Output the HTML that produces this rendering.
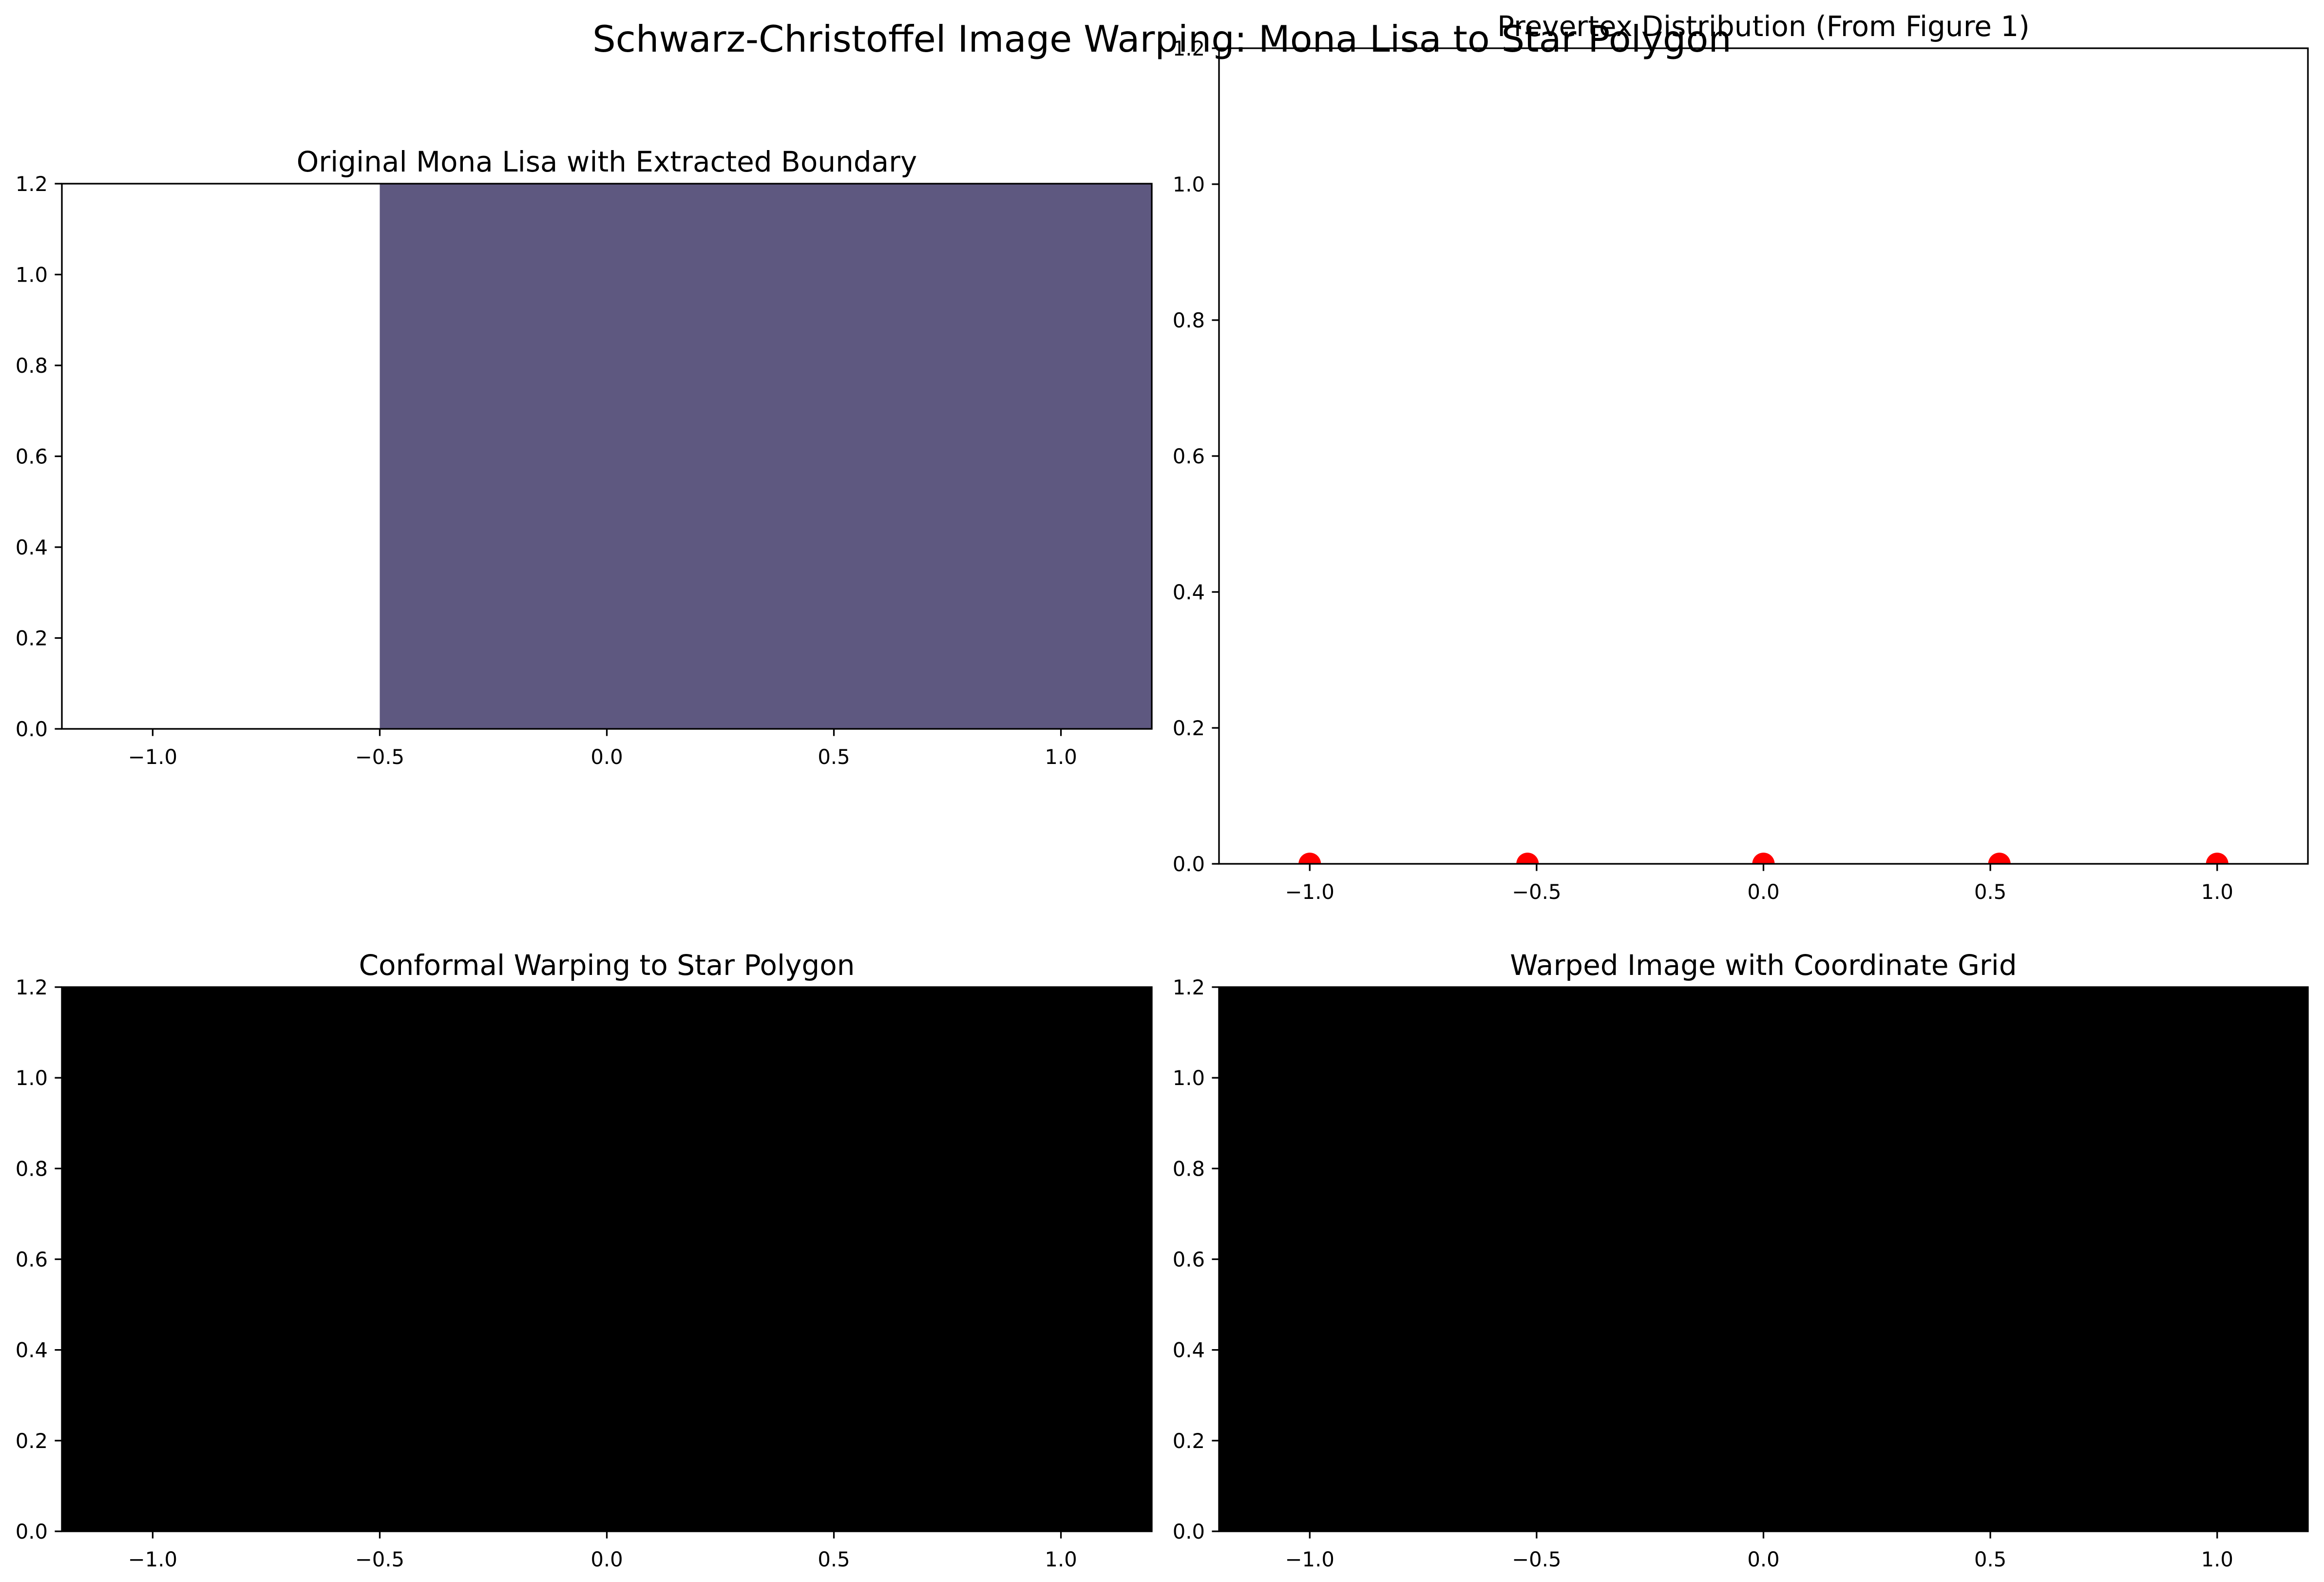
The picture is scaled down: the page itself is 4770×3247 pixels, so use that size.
<!DOCTYPE html>
<html><head><meta charset="utf-8"><style>
html,body{margin:0;padding:0;background:#fff}
svg{display:block;font-family:"DejaVu Sans","Liberation Sans",sans-serif}
</style></head><body>
<svg id="fig" width="4770" height="3247" viewBox="0 0 4770 3247">
<rect width="4770" height="3247" fill="#fff"/>
<g id="root"></g>
<text x="2385" y="106" font-size="75" text-anchor="middle">Schwarz-Christoffel Image Warping: Mona Lisa to Star Polygon</text>
</svg>
<script>
const xTicks = [-1.0, -0.5, 0.0, 0.5, 1.0];
const xTickLabels = ["\u22121.0", "\u22120.5", "0.0", "0.5", "1.0"];
const yTicks = [0, 0.2, 0.4, 0.6, 0.8, 1.0, 1.2];
const yTickLabels = ["0.0", "0.2", "0.4", "0.6", "0.8", "1.0", "1.2"];
const prevertexX = [-1.0, -0.52, 0.0, 0.52, 1.0];
const prevertexY = [0, 0, 0, 0, 0];
const imageRegionX = [-0.5, 1.2];
const imageRegionY = [0, 1.2];

const NS = "http://www.w3.org/2000/svg";
const root = document.getElementById('root');
function mk(tag, attrs, parent) {
  const e = document.createElementNS(NS, tag);
  for (const k in attrs) e.setAttribute(k, attrs[k]);
  (parent || root).appendChild(e);
  return e;
}
const panels = [
  {name:'original-panel', title:'Original Mona Lisa with Extracted Boundary', L:127, R:2364, T:377, B:1496},
  {name:'prevertex-panel', title:'Prevertex Distribution (From Figure 1)', L:2502, R:4737, T:99, B:1773},
  {name:'warping-panel', title:'Conformal Warping to Star Polygon', L:127, R:2364, T:2026, B:3143},
  {name:'warped-grid-panel', title:'Warped Image with Coordinate Grid', L:2502, R:4737, T:2026, B:3143}
];
panels.forEach((p, i) => {
  const g = mk('g', {});
  
  
  const sx = v => p.L + (v + 1.2) / 2.4 * (p.R - p.L);
  const sy = v => p.B - v / 1.2 * (p.B - p.T);
  if (i === 0) {
    const r = mk('rect', {x: sx(imageRegionX[0]), y: sy(imageRegionY[1]), width: sx(imageRegionX[1]) - sx(imageRegionX[0]), height: sy(imageRegionY[0]) - sy(imageRegionY[1]), fill: '#5e5880'}, g);
    
    
  }
  if (i >= 2) {
    const r = mk('rect', {x: p.L, y: p.T, width: p.R - p.L, height: p.B - p.T, fill: '#000'}, g);
    
    
  }
  if (i === 1) {
    const clip = mk('clipPath', {id: 'clip1'}, g);
    mk('rect', {x: p.L, y: p.T, width: p.R - p.L, height: p.B - p.T}, clip);
    const pg = mk('g', {'clip-path': 'url(#clip1)'}, g);
    prevertexX.forEach((v, k) => {
      const c = mk('circle', {cx: sx(v), cy: sy(prevertexY[k]), r: 23, fill: '#ff0000'}, pg);
      
      
    });
  }
  const fr = mk('rect', {x: p.L, y: p.T, width: p.R - p.L, height: p.B - p.T, fill: 'none', stroke: '#000', 'stroke-width': 3.3}, g);
  
  
  xTicks.forEach((v, k) => {
    mk('line', {x1: sx(v), x2: sx(v), y1: p.B, y2: p.B + 14.6, stroke: '#000', 'stroke-width': 3.3}, g);
    const t = mk('text', {x: sx(v), y: p.B + 72, 'font-size': 41.7, 'text-anchor': 'middle'}, g);
    t.textContent = xTickLabels[k];
    
    
  });
  yTicks.forEach((v, k) => {
    mk('line', {x1: p.L - 14.6, x2: p.L, y1: sy(v), y2: sy(v), stroke: '#000', 'stroke-width': 3.3}, g);
    const t = mk('text', {x: p.L - 29, y: sy(v) + 15, 'font-size': 41.7, 'text-anchor': 'end'}, g);
    t.textContent = yTickLabels[k];
    
    
  });
  const tt = mk('text', {x: (p.L + p.R) / 2, y: p.T - 25, 'font-size': 58, 'text-anchor': 'middle'}, g);
  tt.textContent = p.title;
  
  
});
</script>
</body></html>
